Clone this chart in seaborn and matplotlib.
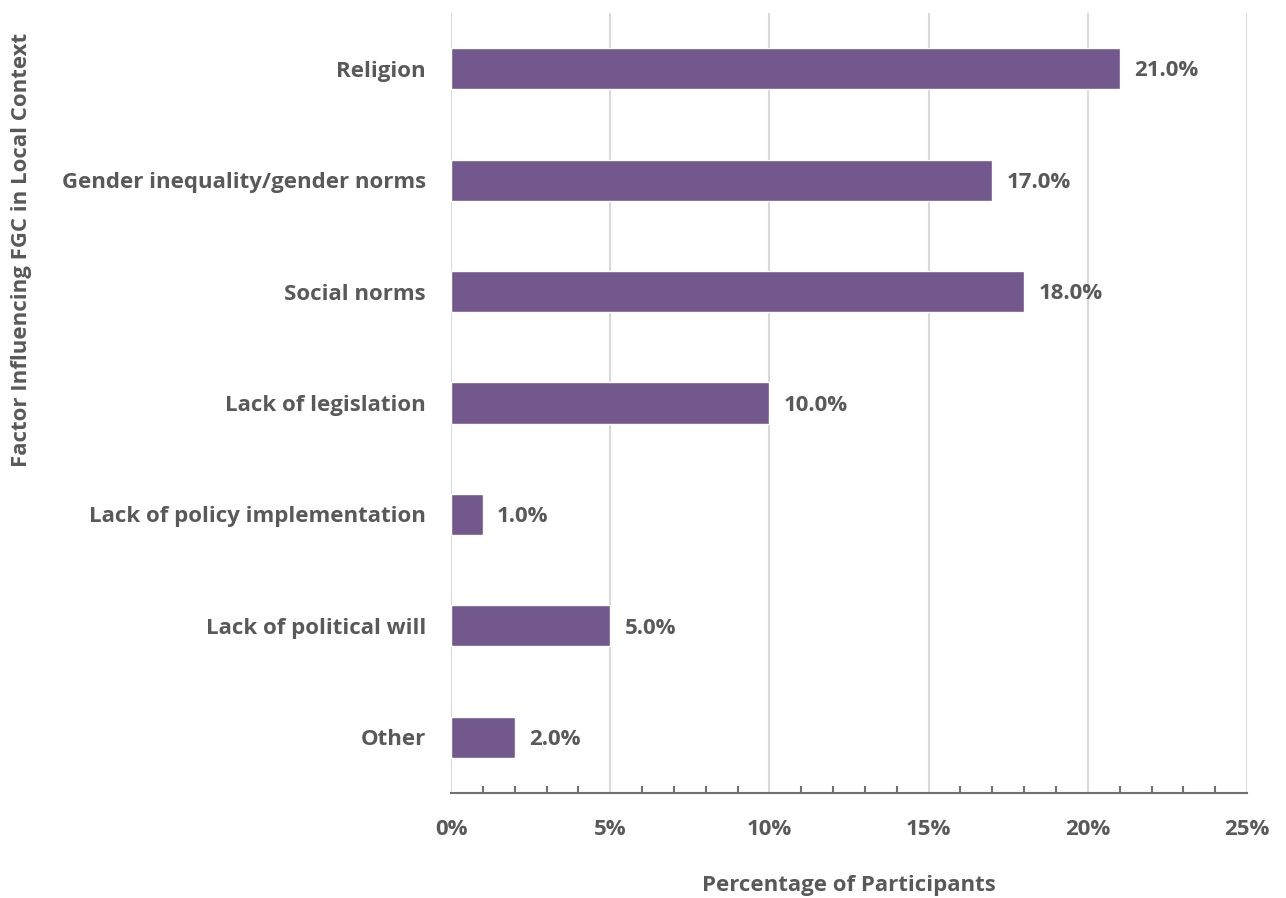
import matplotlib
matplotlib.use("Agg")
import matplotlib.pyplot as plt
from matplotlib.ticker import MultipleLocator, FuncFormatter
import seaborn as sns
import pandas as pd

factors = ["Religion", "Gender inequality/gender norms", "Social norms",
           "Lack of legislation", "Lack of policy implementation",
           "Lack of political will", "Other"]
percentages = [21.0, 17.0, 18.0, 10.0, 1.0, 5.0, 2.0]

df = pd.DataFrame({"factor": factors, "pct": percentages})

sns.set_theme(style="white")
plt.rcParams["font.family"] = ["Open Sans", "DejaVu Sans"]
plt.rcParams["font.weight"] = "bold"

text_col = "#595959"
bar_col = "#72588D"
fs = 16

fig = plt.figure(figsize=(12.86, 8.98), dpi=100)
ax = fig.add_axes([0.3507, 0.1169, 0.6190, 0.8686])

sns.barplot(data=df, x="pct", y="factor", color=bar_col, width=0.37,
            saturation=1, ax=ax, zorder=3)

for p, v in zip(ax.patches, percentages):
    ax.text(p.get_width() + 0.45, p.get_y() + p.get_height() / 2 + 0.02, f"{v:.1f}%",
            va="center", ha="left", fontsize=fs, fontweight="bold", color=text_col)

ax.set_xlim(0, 25)
ax.set_ylim(6.5, -0.5)
ax.xaxis.set_major_locator(MultipleLocator(5))
ax.xaxis.set_minor_locator(MultipleLocator(1))
ax.xaxis.set_major_formatter(FuncFormatter(lambda x, _: f"{x:.0f}%"))
ax.grid(axis="x", color="#d9d9d9", linewidth=1.5, zorder=0)
ax.grid(axis="y", visible=False)

for s in ["top", "right", "left"]:
    ax.spines[s].set_visible(False)
ax.spines["bottom"].set_color("#707070")
ax.spines["bottom"].set_linewidth(1.5)

ax.tick_params(axis="x", which="major", direction="in", length=8, width=1.5,
               color="#707070", pad=19, labelsize=fs, labelcolor=text_col)
ax.tick_params(axis="x", which="minor", direction="in", length=5, width=1.5,
               color="#707070", bottom=True)
ax.tick_params(axis="y", length=0, pad=18, labelsize=fs, labelcolor=text_col)
for lbl in ax.get_xticklabels() + ax.get_yticklabels():
    lbl.set_fontweight("bold")

ax.set_xlabel("Percentage of Participants", fontsize=fs, fontweight="bold",
              color=text_col, va="center")
ax.xaxis.set_label_coords(0.5, -0.118)
ax.set_ylabel("Factor Influencing FGC in Local Context", fontsize=fs,
              fontweight="bold", color=text_col, va="center")
ax.yaxis.set_label_coords(-0.539, 0.696)

fig.savefig("out.png", dpi=100)
